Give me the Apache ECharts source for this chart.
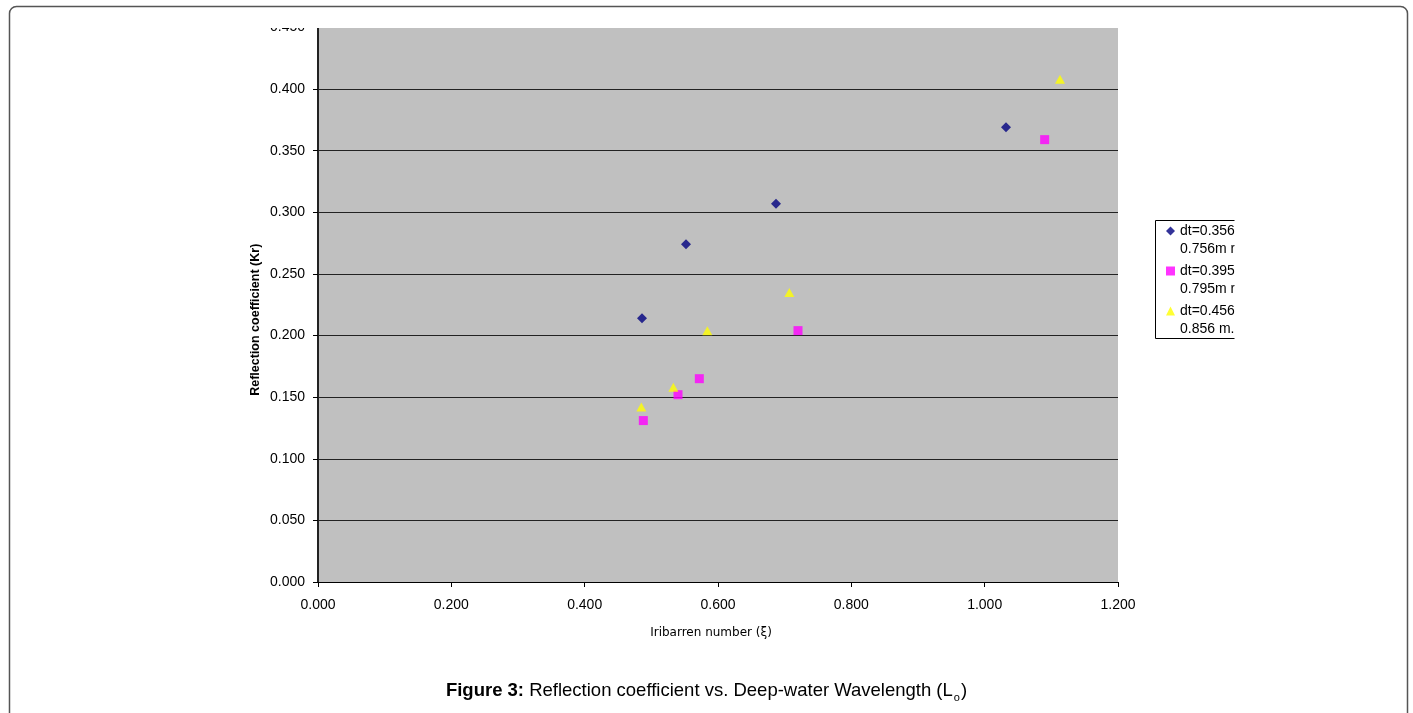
<!DOCTYPE html>
<html>
<head>
<meta charset="utf-8">
<title>Reflection coefficient vs. Iribarren number</title>
<script src="https://cdn.jsdelivr.net/npm/echarts@6/dist/echarts.min.js"></script>
<style>
    html, body { margin: 0; padding: 0; background: #fff; }
    #main { width: 1413px; height: 713px; }
</style>
</head>
<body>
<div id="main"></div>
<script>
    // series names (legend, two lines each as in the original sheet)
    const names = [
        'dt=0.356m, d=\n0.756m run',
        'dt=0.395m, d=\n0.795m run',
        'dt=0.456m, d=\n0.856 m. run'
    ];
    // Iribarren number (x) and reflection coefficient Kr (y)
    const xDt356 = [0.486, 0.552, 0.687, 1.032];
    const yDt356 = [0.214, 0.274, 0.307, 0.369];
    const xDt395 = [0.488, 0.540, 0.572, 0.720, 1.090];
    const yDt395 = [0.131, 0.152, 0.165, 0.204, 0.359];
    const xDt456 = [0.485, 0.533, 0.584, 0.707, 1.113];
    const yDt456 = [0.142, 0.158, 0.204, 0.235, 0.408];

    const font = '"Liberation Sans", Arial, sans-serif';

    function pairs(xs, ys) {
        return xs.map((x, i) => [x, ys[i]]);
    }

    const chart = echarts.init(document.getElementById('main'));
    const option = {
        animation: false,
        title: {
            left: 'center',
            top: 674,
            text: '{b|Figure 3:} Reflection coefficient vs. Deep-water Wavelength (L{s|o})',
            textStyle: {
                fontFamily: font,
                fontSize: 18.5,
                fontWeight: 'normal',
                color: '#000',
                rich: {
                    b: { fontFamily: font, fontSize: 18.5, fontWeight: 'bold', color: '#000' },
                    s: { fontFamily: font, fontSize: 11, color: '#000', padding: [13, 1, 0, 1] }
                }
            }
        },
        grid: {
            left: 318,
            right: 295,
            top: 27.5,
            bottom: 131,
            show: true,
            backgroundColor: '#c0c0c0',
            borderWidth: 0
        },
        legend: {
            left: 1155,
            top: 204,
            orient: 'vertical',
            padding: [0, 0, 0, 11],
            itemGap: -14,
            itemWidth: 9,
            itemHeight: 9,
            // blank first line so the marker sits beside the first text line
            formatter: name => '\n' + name,
            textStyle: {
                fontFamily: font,
                fontSize: 14,
                color: '#000',
                lineHeight: 18
            },
            data: names
        },
        xAxis: {
            type: 'value',
            min: 0,
            max: 1.2,
            interval: 0.2,
            name: 'Iribarren number (ξ)',
            nameLocation: 'middle',
            nameGap: 45,
            nameTextStyle: {
                fontFamily: '"DejaVu Sans", sans-serif',
                fontSize: 12,
                color: '#000',
                padding: [0, 14, 0, 0]
            },
            axisLine: { show: true, lineStyle: { color: '#000', width: 1 } },
            axisTick: { show: true, length: 5, lineStyle: { color: '#000' } },
            axisLabel: {
                margin: 16,
                fontFamily: font,
                fontSize: 14,
                color: '#000',
                formatter: v => v.toFixed(3)
            },
            splitLine: { show: false }
        },
        yAxis: {
            type: 'value',
            min: 0,
            max: 0.45,
            interval: 0.05,
            name: 'Reflection coefficient (Kr)',
            nameLocation: 'middle',
            nameGap: 56,
            nameMoveOverlap: false,
            nameTextStyle: {
                fontFamily: font,
                fontSize: 12.5,
                fontWeight: 'bold',
                color: '#000',
                padding: [0, 30, 0, 0]
            },
            axisLine: { show: true, lineStyle: { color: '#222', width: 2 } },
            axisTick: { show: true, length: 5, lineStyle: { color: '#000' } },
            axisLabel: {
                margin: 13,
                fontFamily: font,
                fontSize: 14,
                color: '#000',
                formatter: v => v.toFixed(3)
            },
            splitLine: { show: true, lineStyle: { color: '#222', width: 1.2 } }
        },
        series: [
            {
                name: names[0],
                type: 'scatter',
                symbol: 'diamond',
                symbolSize: 10,
                itemStyle: { color: '#000080' },
                data: pairs(xDt356, yDt356)
            },
            {
                name: names[1],
                type: 'scatter',
                symbol: 'rect',
                symbolSize: 9,
                itemStyle: { color: '#ff00ff' },
                data: pairs(xDt395, yDt395)
            },
            {
                name: names[2],
                type: 'scatter',
                symbol: 'triangle',
                symbolSize: [10, 9],
                itemStyle: { color: '#ffff00' },
                data: pairs(xDt456, yDt456)
            }
        ],
        graphic: [
            // legend frame (right side is cut off in the original)
            {
                type: 'rect',
                z: 50,
                shape: { x: 1155.5, y: 220.5, width: 120, height: 118 },
                style: { fill: null, stroke: '#000', lineWidth: 1 }
            },
            // white masks: the picture was cropped at top and at the legend's right
            {
                type: 'rect',
                z: 100,
                shape: { x: 240, y: 8, width: 900, height: 20 },
                style: { fill: '#fff' }
            },
            {
                type: 'rect',
                z: 100,
                shape: { x: 1234.5, y: 200, width: 160, height: 160 },
                style: { fill: '#fff' }
            },
            // outer figure frame
            {
                type: 'rect',
                z: 110,
                shape: { x: 9.5, y: 6.5, width: 1398, height: 760, r: 7 },
                style: { fill: null, stroke: '#555', lineWidth: 1.5 }
            }
        ]
    };
    chart.setOption(option);
</script>
</body>
</html>
